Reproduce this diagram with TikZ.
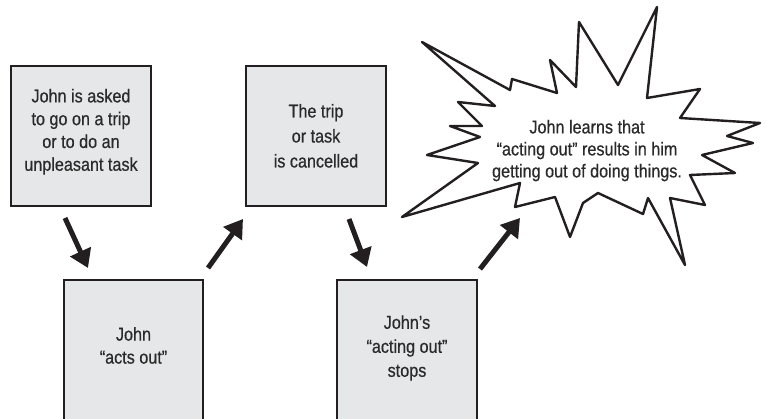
\documentclass[tikz,border=0pt]{standalone}
\usepackage{graphicx}
\usepackage{fontspec}
\setmainfont{Liberation Sans}[FakeBold=0.6]
\usetikzlibrary{arrows.meta}
\definecolor{boxfill}{HTML}{E6E7E8}
\definecolor{ink}{HTML}{231F20}
\definecolor{txt}{HTML}{2A2A2A}
\newcommand{\mylines}[2]{{\fontsize{18.6}{#1}\selectfont\scalebox{0.87}[1]{\begin{tabular}{@{}c@{}}#2\end{tabular}}}}
\begin{document}
\begin{tikzpicture}[x=1pt,y=-1pt,
  box/.style={draw=ink, line width=2pt, fill=boxfill, minimum width=140pt, minimum height=140pt, inner sep=0pt},
  lbl/.style={text=txt, inner sep=0pt},
  bigarrow/.style={draw=ink, line width=5pt, -{Triangle[length=18pt,width=22pt]}},
  burst/.style={draw=ink, line width=2.4pt, fill=white, line join=round}]
\useasboundingbox (0,0) rectangle (767,419);
\clip (0,0) rectangle (767,419);

% boxes
\node[box] (b1) at (81,136) {};
\node[box] (b2) at (316,136.5) {};
\node[box, minimum width=139pt, minimum height=180pt] (b3) at (133.5,370) {};
\node[box, minimum height=180pt] (b4) at (407,370) {};

\node[lbl] (t1) at (81,132) {\mylines{22.8}{John is asked\\to go on a trip\\or to do an\\unpleasant task}};
\node[lbl] (t2) at (316,137.5) {\mylines{25}{The trip\\or task\\is cancelled}};
\node[lbl] (t3) at (133.5,347.5) {\mylines{23}{John\\“acts out”}};
\node[lbl] (t4) at (407,348) {\mylines{24}{John’s\\“acting out”\\stops}};

% burst
\draw[burst] (422,42) -- (510,90) -- (512,79) -- (557,93) -- (550,60) -- (576,87)
  -- (579,22) -- (618,85) -- (657,7) -- (647,98) -- (700,89) -- (680,118)
  -- (760,123) -- (727,136) -- (753,143) -- (702,155) -- (735,173) -- (690,175)
  -- (705,205) -- (670,198) -- (685,265) -- (648,198) -- (643,214) -- (598,193)
  -- (583,203) -- (570,237) -- (555,197) -- (515,207) -- (520,183) -- (402,217)
  -- (478,163) -- (427,155) -- (480,137) -- (450,126) -- (482,126) -- (458,102)
  -- (495,106) -- cycle;
\node[lbl] (t5) at (587,151) {\mylines{22}{John learns that\\“acting out” results in him\\getting out of doing things.}};

% arrows
\coordinate (a1s) at (65,218);
\coordinate (a1e) at (88,268);
\coordinate (a2s) at (208,268);
\coordinate (a2e) at (243,219);
\coordinate (a3s) at (349,219);
\coordinate (a3e) at (367,267);
\coordinate (a4s) at (480,269);
\coordinate (a4e) at (520,218);
\draw[bigarrow] (a1s) -- (a1e);
\draw[bigarrow] (a2s) -- (a2e);
\draw[bigarrow] (a3s) -- (a3e);
\draw[bigarrow] (a4s) -- (a4e);
\end{tikzpicture}
\end{document}
